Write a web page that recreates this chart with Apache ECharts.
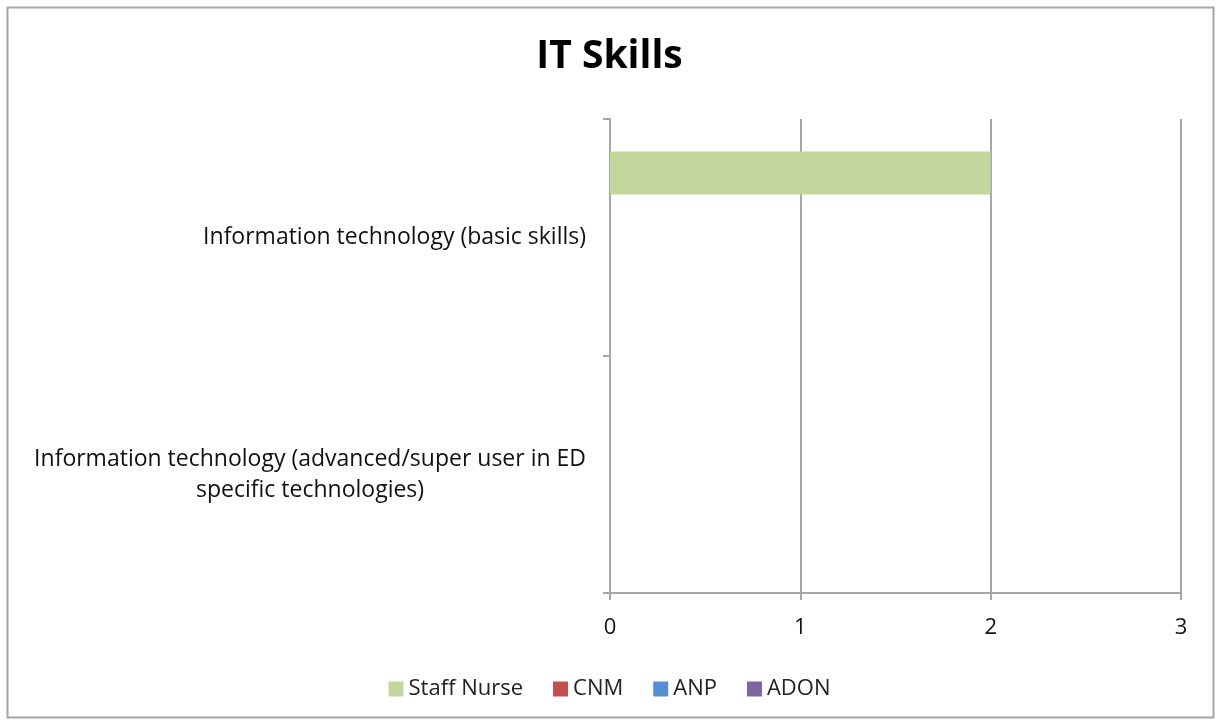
<!DOCTYPE html>
<html>
<head>
<meta charset="utf-8">
<script src="https://cdn.jsdelivr.net/npm/echarts@6/dist/echarts.min.js"></script>
<style>
  html, body { margin: 0; padding: 0; background: #fff; }
  #chart { width: 1219px; height: 725px; }
</style>
</head>
<body>
<div id="chart"></div>
<script>
const categories = [
  "Information technology (basic skills)",
  "Information technology (advanced/super user in ED\nspecific technologies)"
];
const seriesNames = ["Staff Nurse", "CNM", "ANP", "ADON"];
const staffNurse = [2, 0];
const cnm = [0, 0];
const anp = [0, 0];
const adon = [0, 0];
const xTicks = [0, 1, 2, 3];

const colors = ["#c3d69b", "#c0504d", "#558ed5", "#8064a2"];
const values = [staffNurse, cnm, anp, adon];

const chart = echarts.init(document.getElementById("chart"));

/** keep every line of a label centred inside its right-aligned block */
function labelFormatter(v) {
  return v.split("\n").map(s => "{a|" + s + "}").join("\n");
}

const option = {
  animation: false,
  textStyle: { fontFamily: "Open Sans" },
  title: {
    text: "IT Skills",
    left: "center",
    top: 32,
    textStyle: { fontSize: 39, fontWeight: "bold", color: "#000", fontFamily: "Open Sans" }
  },
  graphic: [{
    type: "rect",
    shape: { x: 7.5, y: 7.5, width: 1206, height: 710 },
    style: { fill: null, stroke: "#a6a6a6", lineWidth: 2 },
    silent: true
  }],
  legend: {
    bottom: 20,
    left: "center",
    itemWidth: 15,
    itemHeight: 15,
    itemGap: 30,
    icon: "rect",
    data: seriesNames,
    textStyle: { fontSize: 22, color: "#222" }
  },
  grid: { left: 610, right: 38, top: 119, bottom: 132 },
  xAxis: {
    type: "value",
    min: 0,
    max: 3,
    interval: 1,
    axisLine: { show: true, lineStyle: { color: "#a6a6a6", width: 2 } },
    axisTick: { show: true, length: 7, lineStyle: { color: "#a6a6a6", width: 2 } },
    splitLine: { show: true, lineStyle: { color: "#a6a6a6", width: 2 } },
    axisLabel: {
      fontSize: 22, color: "#111", margin: 24,
      formatter: v => xTicks.includes(v) ? String(v) : ""
    }
  },
  yAxis: {
    type: "category",
    inverse: true,
    data: categories,
    axisLine: { show: true, lineStyle: { color: "#a6a6a6", width: 2 } },
    axisTick: { show: true, length: 7, lineStyle: { color: "#a6a6a6", width: 2 } },
    axisLabel: {
      fontSize: 23, color: "#111", margin: 24, lineHeight: 31,
      formatter: labelFormatter,
      rich: { a: { fontSize: 23, color: "#111", align: "center", lineHeight: 31 } }
    }
  },
  series: seriesNames.map((name, i) => ({
    name: name,
    type: "bar",
    data: values[i],
    barWidth: 43,
    barGap: "0%",
    itemStyle: { color: colors[i] }
  }))
};

chart.setOption(option);
</script>
</body>
</html>
